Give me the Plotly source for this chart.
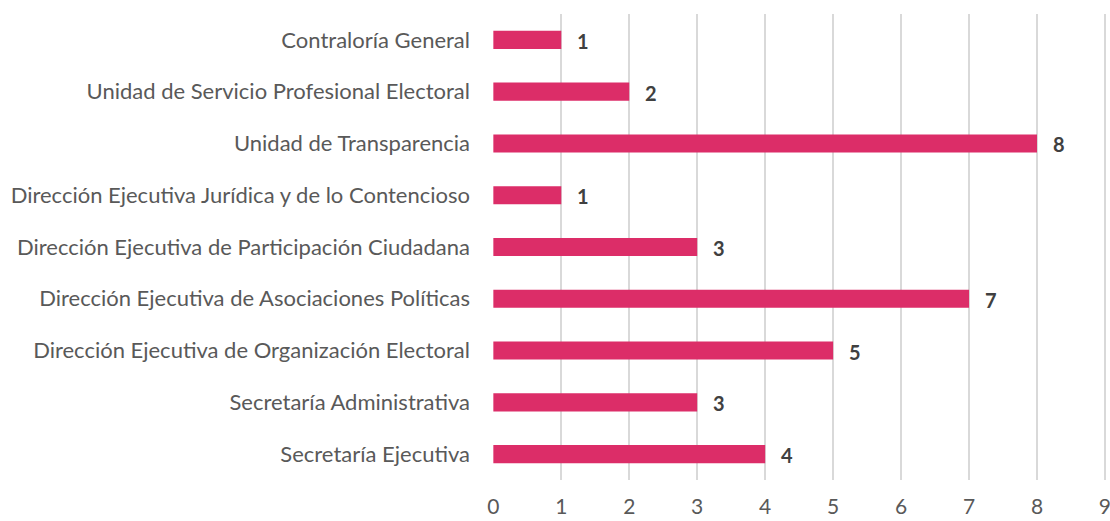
import plotly.graph_objects as go

categories = [
    "Contraloría General",
    "Unidad de Servicio Profesional Electoral",
    "Unidad de Transparencia",
    "Dirección Ejecutiva Jurídica y de lo Contencioso",
    "Dirección Ejecutiva de Participación Ciudadana",
    "Dirección Ejecutiva de Asociaciones Políticas",
    "Dirección Ejecutiva de Organización Electoral",
    "Secretaría Administrativa",
    "Secretaría Ejecutiva",
]
values = [1, 2, 8, 1, 3, 7, 5, 3, 4]
x_ticks = list(range(0, 10))

FONT = "Lato, 'Open Sans', sans-serif"

fig = go.Figure()
fig.add_trace(go.Bar(
    y=categories, x=values, orientation="h",
    marker=dict(color="#DC2D68", line=dict(width=0)),
    hoverinfo="x+y",
))
for c, v in zip(categories, values):
    fig.add_annotation(x=v, y=c, text=f"<b>{v}</b>", showarrow=False,
                       xanchor="left", xshift=14, yshift=-1,
                       font=dict(family=FONT, size=20, color="#404040"))

fig.update_layout(
    width=1110, height=521,
    margin=dict(l=493, r=3, t=14, b=41, autoexpand=False),
    paper_bgcolor="white", plot_bgcolor="white",
    bargap=0.65, showlegend=False,
    font=dict(family=FONT, size=22, color="#595959"),
    xaxis=dict(range=[-0.005, 9.03], tickvals=x_ticks, showgrid=True,
               gridcolor="#D9D9D9", gridwidth=1.5, zeroline=False,
               showline=False, ticklabelstandoff=12, automargin=False,
               ticklabeloverflow="allow",
               tickfont=dict(size=21, color="#595959")),
    yaxis=dict(categoryorder="array", categoryarray=categories[::-1],
               showgrid=False, zeroline=False, showline=False,
               ticklabelstandoff=22, automargin=False,
               tickfont=dict(size=22, color="#595959")),
)
fig.write_html("out.html", config={"displayModeBar": False},
               post_script="document.body.style.margin='0';document.body.style.overflow='hidden';")
